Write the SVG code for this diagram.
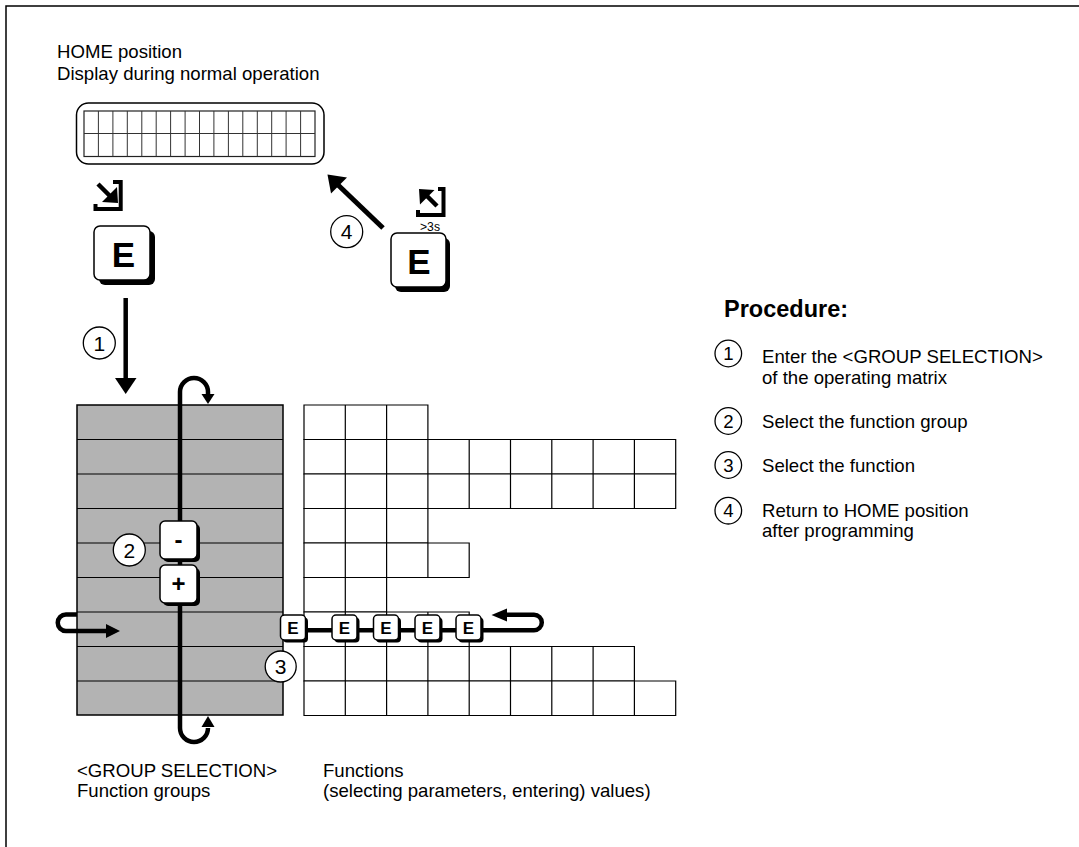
<svg xmlns="http://www.w3.org/2000/svg" width="1079" height="847" viewBox="0 0 1079 847">
<style>
.t{font-family:"Liberation Sans",Arial,sans-serif;font-size:18.6px;fill:#000}
.h{font-family:"Liberation Sans",Arial,sans-serif;font-size:23.5px;font-weight:bold;fill:#000}
.num{font-family:"Liberation Sans",Arial,sans-serif;fill:#000;text-anchor:middle}
.key{fill:#fff;stroke:#000;stroke-width:1.5}
.sh{fill:#000}
.klab{font-family:"Liberation Sans",Arial,sans-serif;font-weight:bold;fill:#000;text-anchor:middle}
.thick{fill:none;stroke:#000;stroke-width:4.5}
.cells{fill:#fff;stroke:#000;stroke-width:1.2}
.circ{fill:#fff;stroke:#000;stroke-width:1.3}
.ico{fill:none;stroke:#000;stroke-width:4}
</style>
<rect width="1079" height="847" fill="#fff"/>
<path d="M6,847 V6 H1079" fill="none" stroke="#000" stroke-width="1.5"/>

<g id="home-label">
<text class="t" x="57" y="58">HOME position</text>
<text class="t" x="57" y="80">Display during normal operation</text>
</g>

<g id="display">
<rect x="76.5" y="103" width="247.5" height="61" rx="12" fill="#fff" stroke="#000" stroke-width="1.5"/>
<rect x="84" y="111" width="231" height="45.5" fill="none" stroke="#222" stroke-width="1.2"/>
<path d="M84,133.5H315 M98.4,111v45.5 M112.9,111v45.5 M127.3,111v45.5 M141.8,111v45.5 M156.2,111v45.5 M170.6,111v45.5 M185.1,111v45.5 M199.5,111v45.5 M213.9,111v45.5 M228.4,111v45.5 M242.8,111v45.5 M257.3,111v45.5 M271.7,111v45.5 M286.1,111v45.5 M300.6,111v45.5" fill="none" stroke="#333" stroke-width="1"/>
</g>

<g id="group-selection">
<rect x="77" y="405" width="206" height="310" fill="#b3b3b3" stroke="#000" stroke-width="1.5"/>
<path d="M77,439.5H283 M77,474H283 M77,508.5H283 M77,543H283 M77,577.5H283 M77,612H283 M77,646.5H283 M77,681H283" stroke="#000" stroke-width="1.2"/>
</g>

<g id="functions-grid">
<path class="cells" d="M304,405h123.9v34.5h-123.9z M345.3,405v34.5 M386.6,405v34.5"/>
<path class="cells" d="M304,439.5h371.7v34.5h-371.7z M345.3,439.5v34.5 M386.6,439.5v34.5 M427.9,439.5v34.5 M469.2,439.5v34.5 M510.5,439.5v34.5 M551.8,439.5v34.5 M593.1,439.5v34.5 M634.4,439.5v34.5"/>
<path class="cells" d="M304,474h371.7v34.5h-371.7z M345.3,474v34.5 M386.6,474v34.5 M427.9,474v34.5 M469.2,474v34.5 M510.5,474v34.5 M551.8,474v34.5 M593.1,474v34.5 M634.4,474v34.5"/>
<path class="cells" d="M304,508.5h123.9v34.5h-123.9z M345.3,508.5v34.5 M386.6,508.5v34.5"/>
<path class="cells" d="M304,543h165.2v34.5h-165.2z M345.3,543v34.5 M386.6,543v34.5 M427.9,543v34.5"/>
<path class="cells" d="M304,577.5h82.6v34.5h-82.6z M345.3,577.5v34.5"/>
<path class="cells" d="M304,612h165.2v34.5h-165.2z M345.3,612v34.5 M386.6,612v34.5 M427.9,612v34.5"/>
<path class="cells" d="M304,646.5h330.4v34.5h-330.4z M345.3,646.5v34.5 M386.6,646.5v34.5 M427.9,646.5v34.5 M469.2,646.5v34.5 M510.5,646.5v34.5 M551.8,646.5v34.5 M593.1,646.5v34.5"/>
<path class="cells" d="M304,681h371.7v34.5h-371.7z M345.3,681v34.5 M386.6,681v34.5 M427.9,681v34.5 M469.2,681v34.5 M510.5,681v34.5 M551.8,681v34.5 M593.1,681v34.5 M634.4,681v34.5"/>
</g>

<g id="connectors">
<line class="thick" x1="125.7" y1="298" x2="125.7" y2="380"/>
<polygon points="115,378 136.5,378 125.7,394"/>
<line x1="383" y1="228" x2="337" y2="184" stroke="#000" stroke-width="5"/>
<polygon points="327.5,174.5 347,177.5 331,193.5"/>
<path class="thick" d="M208,728 A14,14 0 0 1 180,728 V392 A14,14 0 0 1 208,392 V395"/>
<polygon points="201.5,394 214.5,394 208,404"/>
<polygon points="201.5,727 214.5,727 208,716"/>
<path class="thick" d="M77,614.5 H66 A8.25,8.25 0 0 0 66,631 H108"/>
<polygon points="106,624 106,638 120,631"/>
<path class="thick" d="M293,630.3 H534 A7.8,7.8 0 0 0 534,614.7 H505"/>
<polygon points="491.5,615 507,608.5 507,621.5"/>
</g>

<g id="icon-enter">
<path class="ico" d="M113,182 H120.7 V209 H95.5 V204"/>
<line x1="98" y1="184" x2="110" y2="196" stroke="#000" stroke-width="4.5"/>
<polygon points="118,203 117,187 102,202"/>
</g>

<g id="key-e-enter">
<rect class="sh" x="99" y="231" width="56" height="54" rx="6"/>
<rect class="key" x="94" y="226" width="56" height="54" rx="6"/>
<text class="klab" x="123.5" y="266.5" font-size="35">E</text>
</g>

<g id="icon-home">
<path class="ico" d="M438,189 H443.5 V215 H418 V210"/>
<line x1="437" y1="206" x2="427" y2="196" stroke="#000" stroke-width="4.5"/>
<polygon points="419,189 434.5,190 420,204.5"/>
<text x="420" y="231" font-family="Liberation Sans,Arial,sans-serif" font-size="13" textLength="20" lengthAdjust="spacingAndGlyphs">&gt;3s</text>
</g>

<g id="key-e-home">
<rect class="sh" x="395" y="238" width="55" height="54" rx="6"/>
<rect class="key" x="391" y="233" width="55" height="54" rx="6"/>
<text class="klab" x="419" y="274" font-size="35">E</text>
</g>

<g id="key-minus">
<rect class="sh" x="163" y="524" width="37" height="38" rx="5"/>
<rect class="key" x="160" y="521" width="37" height="38" rx="5"/>
<text class="klab" x="178.5" y="548" font-size="24">-</text>
</g>
<g id="key-plus">
<rect class="sh" x="163" y="568" width="37" height="38" rx="5"/>
<rect class="key" x="160" y="565" width="37" height="38" rx="5"/>
<text class="klab" x="178.5" y="592" font-size="24">+</text>
</g>

<g id="e-keys">
<rect class="sh" x="283" y="617.5" width="25" height="25" rx="4"/>
<rect class="key" x="280.5" y="615" width="25" height="25" rx="4"/>
<text class="klab" x="293" y="634" font-size="17">E</text>
<rect class="sh" x="334.5" y="617.5" width="25" height="25" rx="4"/>
<rect class="key" x="332" y="615" width="25" height="25" rx="4"/>
<text class="klab" x="344.5" y="634" font-size="17">E</text>
<rect class="sh" x="376" y="617.5" width="25" height="25" rx="4"/>
<rect class="key" x="373.5" y="615" width="25" height="25" rx="4"/>
<text class="klab" x="386" y="634" font-size="17">E</text>
<rect class="sh" x="417.5" y="617.5" width="25" height="25" rx="4"/>
<rect class="key" x="415" y="615" width="25" height="25" rx="4"/>
<text class="klab" x="427.5" y="634" font-size="17">E</text>
<rect class="sh" x="458.5" y="617.5" width="25" height="25" rx="4"/>
<rect class="key" x="456" y="615" width="25" height="25" rx="4"/>
<text class="klab" x="468.5" y="634" font-size="17">E</text>
</g>

<g id="step-markers">
<circle class="circ" cx="99.3" cy="343" r="16"/>
<text class="num" x="99.3" y="350.5" font-size="21">1</text>
<circle class="circ" cx="129.3" cy="550" r="16"/>
<text class="num" x="129.3" y="557.5" font-size="21">2</text>
<circle class="circ" cx="280.7" cy="666.5" r="15.5"/>
<text class="num" x="280.7" y="674" font-size="21">3</text>
<circle class="circ" cx="346.7" cy="231.7" r="16"/>
<text class="num" x="346.7" y="239.2" font-size="21">4</text>
</g>

<g id="procedure">
<text class="h" x="724" y="317">Procedure:</text>
<circle class="circ" cx="728.3" cy="353.5" r="13.3"/>
<text class="num" x="728.3" y="360.2" font-size="18.6">1</text>
<text class="t" x="762" y="363">Enter the &lt;GROUP SELECTION&gt;</text>
<text class="t" x="762" y="384">of the operating matrix</text>
<circle class="circ" cx="728.3" cy="421" r="13.3"/>
<text class="num" x="728.3" y="427.7" font-size="18.6">2</text>
<text class="t" x="762" y="427.5">Select the function group</text>
<circle class="circ" cx="728.3" cy="465" r="13.3"/>
<text class="num" x="728.3" y="471.7" font-size="18.6">3</text>
<text class="t" x="762" y="471.5">Select the function</text>
<circle class="circ" cx="728.3" cy="510.7" r="13.3"/>
<text class="num" x="728.3" y="517.4" font-size="18.6">4</text>
<text class="t" x="762" y="516.5">Return to HOME position</text>
<text class="t" x="762" y="537">after programming</text>
</g>

<g id="bottom-labels">
<text class="t" x="77" y="777">&lt;GROUP SELECTION&gt;</text>
<text class="t" x="77" y="797">Function groups</text>
<text class="t" x="323" y="777">Functions</text>
<text class="t" x="323" y="797">(selecting parameters, entering) values)</text>
</g>
</svg>
